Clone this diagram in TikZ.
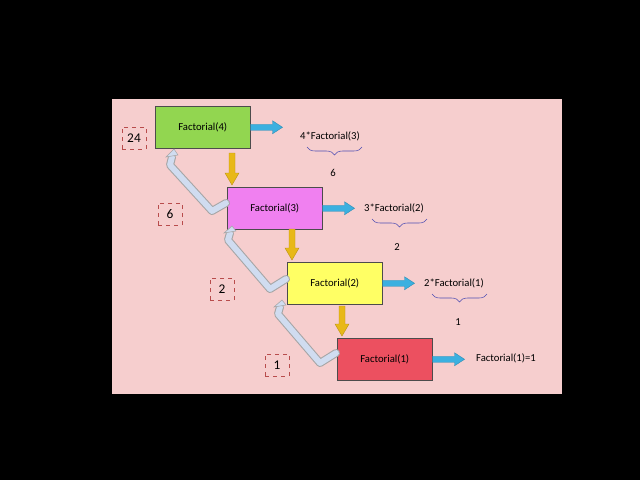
\documentclass[tikz,border=0pt]{standalone}
\usepackage{fontspec}
\setmainfont{Carlito}
\usetikzlibrary{arrows.meta,calc,decorations.pathreplacing}
\definecolor{pinkbg}{HTML}{F6CECE}
\definecolor{ret}{HTML}{D0DCF0}
\definecolor{side}{HTML}{3BB0E0}
\definecolor{down}{HTML}{E8B818}
\begin{document}
\begin{tikzpicture}[x=0.75pt,y=-0.75pt,
 box/.style={draw=black!70,minimum width=71.25pt,minimum height=31.5pt,anchor=north west,inner sep=0,font=\footnotesize},
 lab/.style={font=\footnotesize},
 res/.style={draw=red!60!black!70,dashed,minimum width=18pt,minimum height=16.5pt,inner sep=0,font=\normalsize},
 sarr/.style={draw=side!80!black,fill=side,line width=0.3pt},
 darr/.style={draw=down!80!black,fill=down,line width=0.3pt},
 brc/.style={draw=blue!40!gray,decorate,decoration={brace,mirror,amplitude=6pt}},
 retline/.style={line width=6pt,draw=gray!70,line cap=round,line join=round},
 retin/.style={line width=4.4pt,draw=ret,line cap=round,line join=round}]
\fill[black] (0,0) rectangle (640,480);
\useasboundingbox (0,0) rectangle (640,480);
\fill[pinkbg] (112,99) rectangle (562,394);
\node[box,fill={rgb,255:red,146;green,214;blue,80}] (f4) at (155,106) {Factorial(4)};
\node[box,fill={rgb,255:red,240;green,128;blue,240}] (f3) at (227,187) {Factorial(3)};
\node[box,fill={rgb,255:red,255;green,255;blue,100}] (f2) at (287,262) {Factorial(2)};
\node[box,fill={rgb,255:red,236;green,80;blue,96}] (f1) at (337,338) {Factorial(1)};
% side arrows
\foreach \b in {f4,f3,f2,f1}{
 \filldraw[sarr] ($(\b.east)+(0,-3)$) -- ++(22,0) -- ++(0,-3.5) -- ++(10,6.5) -- ++(-10,6.5) -- ++(0,-3.5) -- ($(\b.east)+(0,3)$) -- cycle;
}
% down arrows
\filldraw[darr] (229,153) -- (235,153) -- (235,173) -- (239,173) -- (232,185) -- (225,173) -- (229,173) -- cycle;
\filldraw[darr] (289,229) -- (295,229) -- (295,248) -- (299,248) -- (292,260) -- (285,248) -- (289,248) -- cycle;
\filldraw[darr] (339,306) -- (345,306) -- (345,324) -- (349,324) -- (342,336) -- (335,324) -- (339,324) -- cycle;
% labels
\node[lab] (e4) at (330,136) {4*Factorial(3)};
\node[lab] (e3) at (394,208) {3*Factorial(2)};
\node[lab] (e2) at (454,283) {2*Factorial(1)};
\node[lab] (e1) at (506,358) {Factorial(1)=1};
\draw[brc] (307,147) -- (362,147);
\draw[brc] (372,219) -- (427,219);
\draw[brc] (432,294) -- (487,294);
\node[lab] (v4) at (333,173) {6};
\node[lab] (v3) at (397,247) {2};
\node[lab] (v2) at (458,322) {1};
% return arrows
\draw[retline] (226,203) -- (212,211) -- (170,165) -- (172,157);
\draw[retin] (226,203) -- (212,211) -- (170,165) -- (172,157);
\filldraw[draw=gray!70,fill=ret] (166,157) -- (178,155) -- (174,149) -- cycle;
\draw[retline] (286,279) -- (270,289) -- (228,240) -- (230,233);
\draw[retin] (286,279) -- (270,289) -- (228,240) -- (230,233);
\filldraw[draw=gray!70,fill=ret] (224,233) -- (236,231) -- (232,226) -- cycle;
\draw[retline] (336,353) -- (320,363) -- (278,314) -- (280,307);
\draw[retin] (336,353) -- (320,363) -- (278,314) -- (280,307);
\filldraw[draw=gray!70,fill=ret] (274,307) -- (286,305) -- (282,300) -- cycle;
% results
\node[res] (r4) at (134,138) {24};
\node[res] (r3) at (170,214) {6};
\node[res] (r2) at (222,289) {2};
\node[res] (r1) at (277,365) {1};
\end{tikzpicture}
\end{document}
